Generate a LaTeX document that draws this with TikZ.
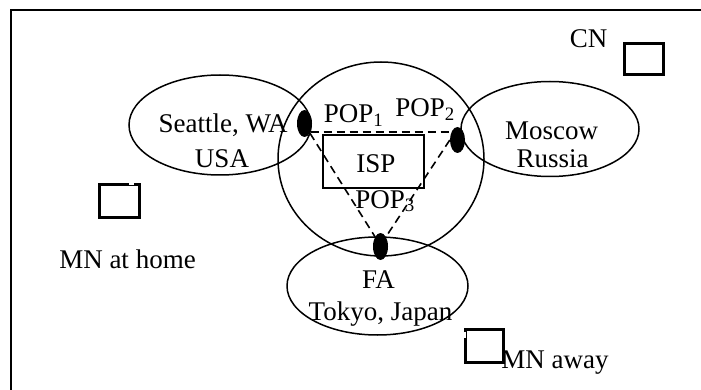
\documentclass[tikz,border=0pt]{standalone}
\usepackage{fontspec}
\setmainfont{Liberation Serif}
\usetikzlibrary{shapes.geometric}
\begin{document}
\begin{tikzpicture}[x=1pt,y=-1pt,
  every node/.style={font=\fontsize{27}{30}\selectfont, inner sep=0pt},
  region/.style={draw, ellipse, line width=1.5pt, inner sep=0pt},
  popdot/.style={fill=black, ellipse, inner sep=0pt, minimum width=15pt, minimum height=27pt},
  hostbox/.style={draw, line width=3pt, rectangle, inner sep=0pt},
  popline/.style={line width=1.6pt, dash pattern=on 8pt off 5pt},
  lbl/.style={anchor=base}]
\useasboundingbox (0,0) rectangle (701,390);

% outer frame (open on the right and at the bottom)
\draw[line width=2pt] (11,392) -- (11,10) -- (703,10);

% regions
\node[region, minimum width=182pt, minimum height=100pt] (seattle) at (220,125) {};
\node[region, minimum width=206pt, minimum height=194pt] (ispzone) at (381,159) {};
\node[region, minimum width=178pt, minimum height=95pt] (moscow) at (550,129) {};
\node[region, minimum width=181pt, minimum height=98pt] (tokyo) at (377.5,286) {};

% ISP backbone box
\node[draw, line width=2pt, rectangle, minimum width=101pt, minimum height=53pt] (isp) at (373.5,161.5) {};
\node[lbl] (ispl) at (376,173) {ISP};

% points of presence
\node[popdot] (pop1) at (304.5,123.5) {};
\node[popdot, minimum height=26pt] (pop2) at (457.5,140) {};
\node[popdot] (pop3) at (380.5,246.5) {};

% dashed links between the POPs
\draw[popline] (pop1.-55) -- (pop1.-55 -| pop2.west);
\draw[popline] (pop1.south east) -- (pop3.north west);
\draw[popline] (pop2.west) -- (pop3.north east);

% POP labels
\node[lbl] (l1) at (353.5,123) {POP\textsubscript{1}};
\node[lbl] (l2) at (425,117) {POP\textsubscript{2}};
\node[lbl] (l3) at (385,208) {POP\textsubscript{3}};

% region labels
\node[lbl] (t1) at (223,133) {Seattle, WA};
\node[lbl] (t2) at (222,168) {USA};
\node[lbl] (t3) at (551.5,140) {Moscow};
\node[lbl] (t4) at (552.5,168) {Russia};
\node[lbl] (t5) at (378.5,288) {FA};
\node[lbl] (t6) at (380.5,320) {Tokyo, Japan};

% hosts
\node[hostbox, minimum width=39pt, minimum height=31pt] (cn) at (643.5,59.5) {};
\node[lbl] (cnl) at (588.5,48) {CN};
\node[hostbox, minimum width=40pt, minimum height=32pt] (mnh) at (119,201) {};
\draw[white, line width=4pt] ([xshift=-12pt]mnh.north east) -- ([xshift=-7pt]mnh.north east);
\node[lbl] (mnhl) at (127.5,268) {MN at home};
\node[hostbox, minimum width=38pt, minimum height=33pt] (mna) at (484,345.5) {};
\draw[white, line width=4pt] ([yshift=-4pt]mna.north west) -- ([yshift=-10pt]mna.north west);
\node[lbl] (mnal) at (555,368) {MN away};
\end{tikzpicture}
\end{document}
